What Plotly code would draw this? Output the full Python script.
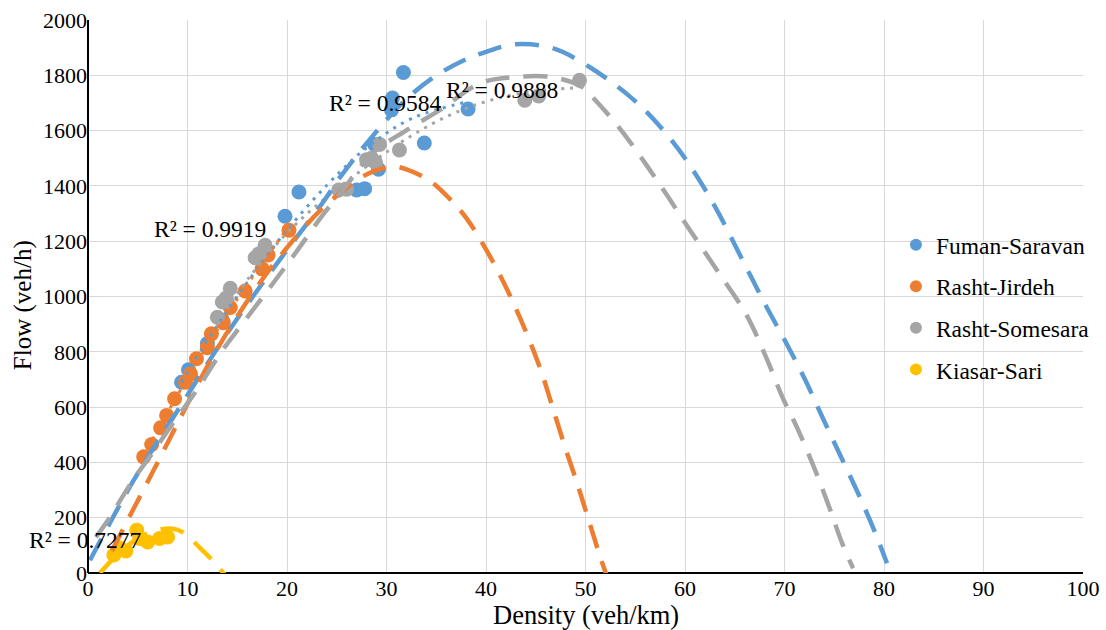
import plotly.graph_objects as go

# ---------------- observed data ----------------
series_names = ["Fuman-Saravan", "Rasht-Jirdeh", "Rasht-Somesara", "Kiasar-Sari"]
colors = ["#5B9BD5", "#ED7D31", "#A5A5A5", "#FFC000"]

fuman_density = [9.4, 10.1, 12.0, 13.5, 19.8, 21.2, 27.0, 27.8, 29.2, 28.8, 30.5, 30.6, 31.7, 33.8, 38.2]
fuman_flow = [690, 735, 830, 915, 1290, 1378, 1385, 1390, 1460, 1550, 1675, 1718, 1810, 1555, 1678]

jirdeh_density = [5.6, 6.4, 7.3, 7.9, 8.7, 9.8, 10.3, 10.9, 12.0, 12.4, 13.6, 14.3, 15.8, 17.5, 18.1, 20.2]
jirdeh_flow = [420, 465, 525, 570, 630, 690, 720, 775, 815, 865, 905, 960, 1020, 1100, 1150, 1240]

somesara_density = [13.0, 13.5, 13.9, 14.3, 16.8, 17.2, 17.8, 25.2, 26.0, 28.0, 28.5, 28.9, 29.3, 31.3, 43.9, 45.3, 49.4]
somesara_flow = [925, 980, 995, 1030, 1140, 1155, 1185, 1385, 1388, 1495, 1500, 1485, 1550, 1530, 1710, 1725, 1782]

kiasar_density = [2.6, 3.2, 3.8, 4.9, 5.2, 6.0, 7.2, 8.0]
kiasar_flow = [65, 90, 80, 155, 125, 112, 125, 130]

# ---------------- model curves (dashed) ----------------
fuman_model_k = [0.2, 4.7, 9.5, 14.2, 19.0, 23.6, 25.3, 28.6, 31.6, 34.6, 38.0, 40.0, 42.9, 46.7,
                 50.4, 54.5, 57.0, 60.0, 63.0, 66.0, 68.2, 70.2, 72.1, 73.8, 75.6, 77.4, 79.1, 80.3]
fuman_model_q = [46, 342, 615, 878, 1120, 1340, 1430, 1580, 1700, 1790, 1858, 1885, 1912, 1898,
                 1830, 1722, 1635, 1500, 1326, 1116, 962, 830, 697, 564, 426, 288, 147, 35]

jirdeh_model_k = [2.4, 4.4, 6.5, 8.2, 9.9, 11.5, 12.9, 14.5, 16.6, 18.5, 21.5, 23.3, 26.6, 28.5,
                  30.6, 32.0, 34.3, 36.7, 38.1, 40.4, 42.9, 45.4, 46.6, 47.9, 49.2, 50.4, 51.6, 52.5]
jirdeh_model_q = [80, 220, 365, 485, 605, 715, 805, 900, 1015, 1110, 1240, 1310, 1410, 1450,
                  1470, 1460, 1420, 1340, 1280, 1145, 965, 745, 610, 460, 320, 182, 45, -45]

somesara_model_k = [0.8, 1.9, 4.5, 6.2, 8.5, 10.9, 13.5, 15.6, 18.6, 20.9, 23.6, 25.6, 28.6, 32.0,
                    35.3, 39.4, 42.7, 46.7, 49.7, 50.7, 53.4, 57.0, 60.5, 63.5, 66.2, 68.2, 69.8,
                    71.3, 73.0, 74.5, 75.8, 76.9]
somesara_model_q = [130, 185, 335, 420, 540, 660, 805, 905, 1048, 1160, 1295, 1384, 1518, 1601,
                    1673, 1771, 1793, 1793, 1757, 1721, 1610, 1430, 1240, 1080, 932, 776, 635,
                    523, 379, 238, 107, 17]

kiasar_model_k = [1.2, 2.5, 4.0, 5.5, 7.0, 8.5, 9.5, 11.2, 12.7, 14.0]
kiasar_model_q = [0, 50, 100, 135, 155, 160, 148, 93, 38, -18]

# ---------------- trendlines (dotted) ----------------
fuman_trend_k = [9.4, 12.0, 15.0, 20.0, 25.3, 28.6, 32.6, 38.2]
fuman_trend_q = [690, 840, 1000, 1240, 1450, 1555, 1645, 1705]

jirdeh_trend_k = [5.6, 10.0, 15.0, 20.2]
jirdeh_trend_q = [425, 705, 990, 1255]

somesara_trend_k = [13.0, 16.0, 20.0, 24.0, 28.0, 32.0, 36.0, 40.0, 44.4, 49.4]
somesara_trend_q = [900, 1060, 1230, 1360, 1470, 1570, 1650, 1705, 1740, 1755]

kiasar_trend_k = [2.6, 4.0, 6.0, 8.0]
kiasar_trend_q = [75, 105, 125, 135]

# R² labels: (text, density, flow, pixel x-shift)
r2_labels = [("R² = 0.9919", 12.3, 1243, 0), ("R² = 0.9584", 29.9, 1699, 0),
             ("R² = 0.9888", 41.6, 1746, 0), ("R² = 0.7277", 0.0, 118, -3)]

x_ticks = list(range(0, 101, 10))
y_ticks = list(range(0, 2001, 200))

FONT = "Liberation Serif"

points = [(fuman_density, fuman_flow), (jirdeh_density, jirdeh_flow),
          (somesara_density, somesara_flow), (kiasar_density, kiasar_flow)]
models = [(fuman_model_k, fuman_model_q), (jirdeh_model_k, jirdeh_model_q),
          (somesara_model_k, somesara_model_q), (kiasar_model_k, kiasar_model_q)]
trends = [(fuman_trend_k, fuman_trend_q), (jirdeh_trend_k, jirdeh_trend_q),
          (somesara_trend_k, somesara_trend_q), (kiasar_trend_k, kiasar_trend_q)]

fig = go.Figure()

for i, (k, q) in enumerate(points):
    fig.add_trace(go.Scatter(x=k, y=q, mode="markers", name=series_names[i],
                             legendgroup=series_names[i],
                             marker=dict(color=colors[i], size=15, line=dict(width=0))))

for i, (k, q) in enumerate(trends):
    fig.add_trace(go.Scatter(x=k, y=q, mode="lines", showlegend=False, hoverinfo="skip",
                             line=dict(color=colors[i], width=3, dash="3px,6px", shape="spline")))

for i, (k, q) in enumerate(models):
    fig.add_trace(go.Scatter(x=k, y=q, mode="lines", showlegend=False, hoverinfo="skip",
                             line=dict(color=colors[i], width=4.5, dash="24px,14px", shape="spline")))

for text, kx, qy, shift in r2_labels:
    fig.add_annotation(x=kx, y=qy, text=text, showarrow=False, xref="x", yref="y",
                       xanchor="center", yanchor="middle", xshift=shift,
                       font=dict(family=FONT, size=23.5, color="black"))

# axis titles
fig.add_annotation(x=0.5, y=-0.076, xref="paper", yref="paper", text="Density (veh/km)",
                   xanchor="center", yanchor="middle",
                   showarrow=False, font=dict(family=FONT, size=26.5, color="black"))
fig.add_annotation(x=-0.066, y=0.485, xref="paper", yref="paper", text="Flow (veh/h)",
                   xanchor="center", yanchor="middle",
                   textangle=-90, showarrow=False, font=dict(family=FONT, size=25, color="black"))

# left axis line
fig.add_shape(type="line", xref="paper", yref="paper", x0=0, x1=0, y0=0, y1=1,
              line=dict(color="black", width=2))

fig.update_layout(
    width=1106, height=630,
    margin=dict(l=88, r=23, t=20, b=57, autoexpand=False),
    paper_bgcolor="white", plot_bgcolor="white",
    font=dict(family=FONT, size=22, color="black"),
    showlegend=True,
    legend=dict(x=0.812, y=0.633, xanchor="left", yanchor="top",
                bgcolor="rgba(0,0,0,0)", font=dict(family=FONT, size=23.5, color="black"),
                tracegroupgap=8, itemsizing="constant"),
    xaxis=dict(range=[0, 100], tickvals=x_ticks, showgrid=True, gridcolor="#D9D9D9",
               gridwidth=1.3, zeroline=False, showline=False, ticks="", automargin=False,
               tickfont=dict(family=FONT, size=22, color="black")),
    yaxis=dict(range=[0, 2000], tickvals=y_ticks, showgrid=True, gridcolor="#D9D9D9",
               gridwidth=1.3, zeroline=True, zerolinecolor="black", zerolinewidth=2,
               showline=False, ticks="", automargin=False,
               tickfont=dict(family=FONT, size=22, color="black")),
)

fig.write_html("out.html", config={"displayModeBar": False},
               post_script="document.body.style.margin='0';")
